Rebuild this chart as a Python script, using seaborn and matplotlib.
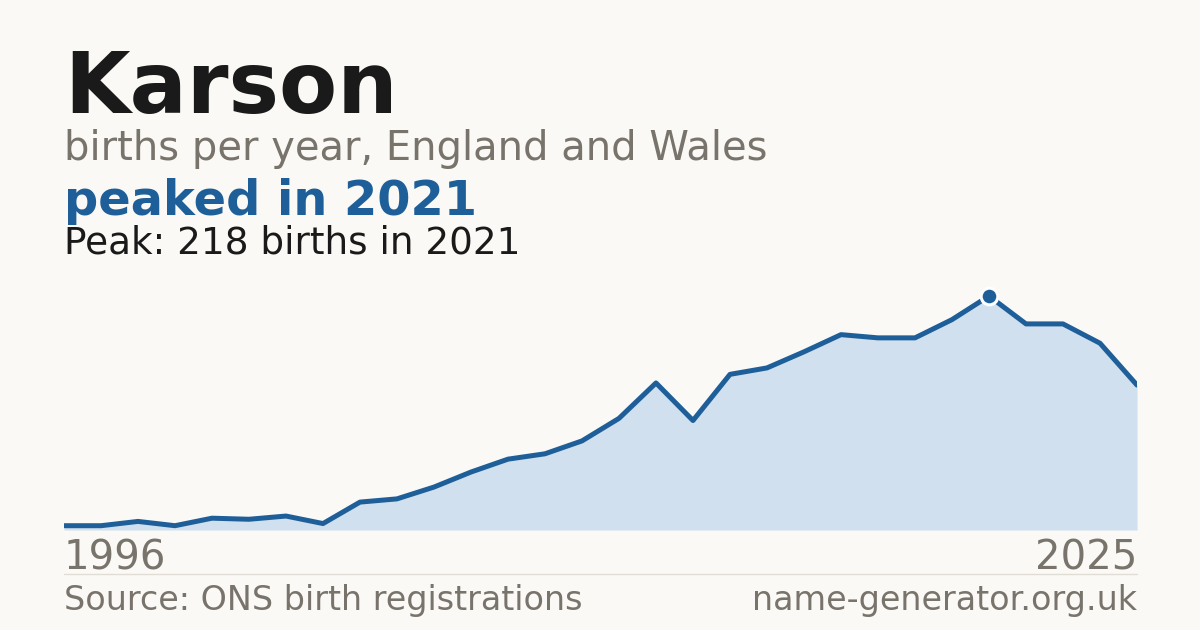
import matplotlib
matplotlib.use("Agg")
import matplotlib.pyplot as plt
import pandas as pd
import seaborn as sns

# births per year for "Karson"
years = list(range(1996, 2026))
births = [4, 4, 8, 4, 11, 10, 13, 6, 26, 29,
          40, 54, 66, 71, 83, 104, 137, 102, 145, 151,
          166, 182, 179, 179, 196, 218, 192, 192, 174, 135]

name = "Karson"
subtitle = "births per year, England and Wales"
headline = "peaked in 2021"
peak_note = "Peak: 218 births in 2021"
source = "Source: ONS birth registrations"
site = "name-generator.org.uk"

BG = "#faf9f5"
BLUE = "#1f5f99"
FILL = "#d0e0ef"
GREY = "#78736b"
INK = "#1a1a1a"

W, H = 1200, 630


def fy(px):
    """pixel row from top -> figure fraction"""
    return 1 - px / H


def fx(px):
    return px / W


sns.set_theme(style="white")
plt.rcParams["font.family"] = ["DejaVu Sans"]

df = pd.DataFrame({"year": years, "births": births})
peak_idx = df["births"].idxmax()

fig = plt.figure(figsize=(12, 6.3), dpi=100, facecolor=BG)
ylim_top = 240
px_per_unit = (530 - 296) / 218
top_px = 530 - ylim_top * px_per_unit
ax = fig.add_axes([fx(64), fy(530), fx(1137) - fx(64), fy(top_px) - fy(530)])
ax.set_facecolor(BG)

ax.fill_between(df["year"], df["births"], 0, color=FILL, linewidth=0, zorder=1)
sns.lineplot(data=df, x="year", y="births", color=BLUE, linewidth=3.6, ax=ax, zorder=2)
ax.plot(df.loc[peak_idx, "year"], df.loc[peak_idx, "births"], "o", color=BLUE,
        markersize=12, markeredgecolor="white", markeredgewidth=2.2, zorder=3, clip_on=False)

ax.set_xlim(years[0], years[-1])
ax.set_ylim(0, ylim_top)
ax.set_xticks([])
ax.set_yticks([])
ax.set_xlabel("")
ax.set_ylabel("")
for s in ax.spines.values():
    s.set_visible(False)

# header text
fig.text(fx(64), fy(113), name, fontsize=61, fontweight="bold", color=INK, va="baseline")
fig.text(fx(64), fy(160), subtitle, fontsize=28.8, color=GREY, va="baseline")
fig.text(fx(64), fy(215), headline, fontsize=34.5, fontweight="bold", color=BLUE, va="baseline")
fig.text(fx(64), fy(254), peak_note, fontsize=26.9, color=INK, va="baseline")

# year labels
fig.text(fx(64), fy(569), str(years[0]), fontsize=28.9, color=GREY, va="baseline", ha="left")
fig.text(fx(1137), fy(569), str(years[-1]), fontsize=28.9, color=GREY, va="baseline", ha="right")

# separator and footer
fig.add_artist(plt.Line2D([fx(64), fx(1137)], [fy(574), fy(574)], color="#e2ddd4", linewidth=1))
fig.text(fx(64), fy(610), source, fontsize=24, color=GREY, va="baseline")
fig.text(fx(1137), fy(610), site, fontsize=24, color=GREY, va="baseline", ha="right")

fig.savefig("out.png", dpi=100, facecolor=BG)
